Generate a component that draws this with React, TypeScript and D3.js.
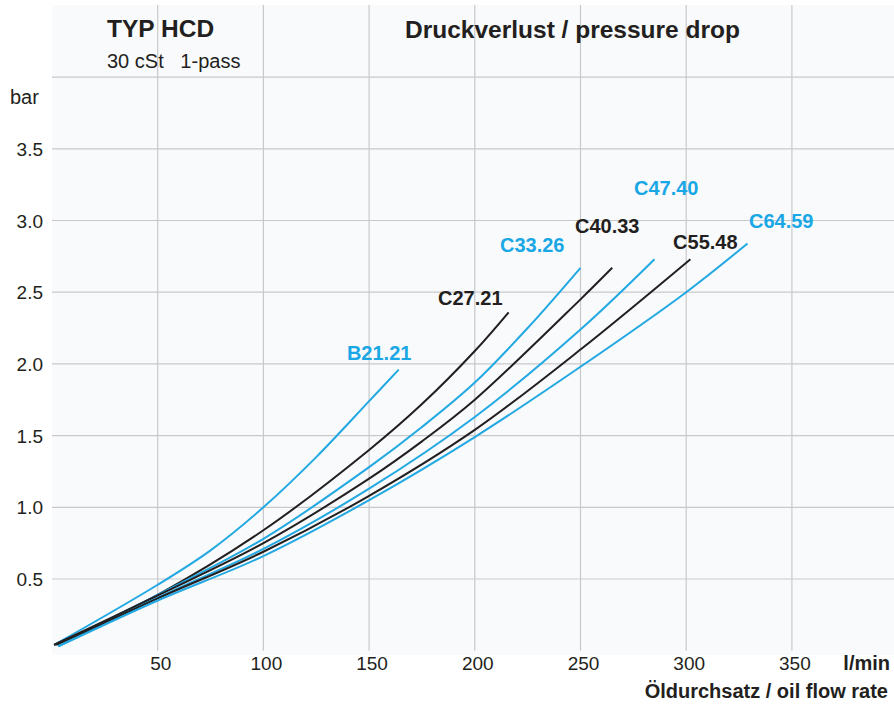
import { useEffect, useRef } from "react";
import * as d3 from "d3";

// filter types (order = legend order left to right)
const filterNames = ["B21.21", "C27.21", "C33.26", "C40.33", "C47.40", "C55.48", "C64.59"];
const filterColors = ["blue", "black", "blue", "black", "blue", "black", "blue"];

// pressure drop curves, [flow l/min, dp bar]
const b2121 = [[1, 0.04], [50, 0.46], [75, 0.7], [100, 1.0], [125, 1.35], [150, 1.74], [164, 1.96]];
const c2721 = [[1, 0.04], [50, 0.39], [100, 0.84], [150, 1.4], [175, 1.72], [200, 2.09], [216, 2.36]];
const c3326 = [[2, 0.04], [50, 0.39], [100, 0.78], [150, 1.28], [175, 1.56], [200, 1.87], [225, 2.25], [250, 2.67]];
const c4033 = [[1, 0.04], [50, 0.385], [100, 0.75], [150, 1.2], [175, 1.46], [200, 1.75], [250, 2.45], [265, 2.67]];
const c4740 = [[3, 0.03], [50, 0.37], [100, 0.71], [150, 1.13], [200, 1.63], [250, 2.24], [285, 2.73]];
const c5548 = [[2, 0.04], [50, 0.365], [100, 0.69], [150, 1.08], [200, 1.54], [250, 2.1], [302, 2.73]];
const c6459 = [[3, 0.03], [50, 0.35], [100, 0.66], [150, 1.05], [200, 1.49], [250, 1.98], [300, 2.5], [329, 2.84]];

// where each curve label sits (text start, baseline) in data units
const labelAt = [[139.5, 2.03], [182.6, 2.41], [211.9, 2.78], [247.4, 2.91], [275.3, 3.18], [293.8, 2.8], [329.7, 2.95]];

const xTicks = [50, 100, 150, 200, 250, 300, 350];
const yTicks = [0.5, 1.0, 1.5, 2.0, 2.5, 3.0, 3.5];
const yGrid = [0.5, 1.0, 1.5, 2.0, 2.5, 3.0, 3.5, 4.0];

export default function App() {
  const ref = useRef<SVGSVGElement>(null);

  useEffect(() => {
    document.body.style.margin = "0";
    if (!ref.current) return;
    const svg = d3.select(ref.current);
    svg.selectAll("*").remove();

    const W = 894;
    const font = "'Liberation Sans', Arial, Helvetica, sans-serif";
    const BLUE = "#22a8e2";
    const BLACK = "#231f20";

    const x = d3.scaleLinear().domain([0, 400]).range([52, 897.6]);
    const y = d3.scaleLinear().domain([0, 4]).range([650.7, 77.1]);

    // plot background
    svg.append("rect")
      .attr("x", x(0)).attr("y", 5)
      .attr("width", W - x(0)).attr("height", 655 - 5)
      .attr("fill", "#f8fafb");

    // grid
    const grid = svg.append("g").attr("stroke", "#c9c9cc").attr("stroke-width", 1.2);
    grid.selectAll("line.v").data(xTicks.concat([400])).enter().append("line")
      .attr("x1", (d) => x(d)).attr("x2", (d) => x(d))
      .attr("y1", 5).attr("y2", y(0));
    grid.selectAll("line.h").data(yGrid).enter().append("line")
      .attr("x1", x(0)).attr("x2", W)
      .attr("y1", (d) => y(d)).attr("y2", (d) => y(d));

    // y tick labels
    svg.append("g").selectAll("text").data(yTicks).enter().append("text")
      .attr("x", 43).attr("y", (d) => y(d) + 7)
      .attr("text-anchor", "end")
      .attr("font-family", font).attr("font-size", 19).attr("fill", BLACK)
      .text((d) => d.toFixed(1));

    svg.append("text").attr("x", 10).attr("y", 104)
      .attr("font-family", font).attr("font-size", 20).attr("fill", BLACK)
      .text("bar");

    // x tick labels
    svg.append("g").selectAll("text").data(xTicks).enter().append("text")
      .attr("x", (d) => x(d) + 3).attr("y", 670)
      .attr("text-anchor", "middle")
      .attr("font-family", font).attr("font-size", 19).attr("fill", BLACK)
      .text((d) => d);

    svg.append("text").attr("x", 890).attr("y", 670).attr("text-anchor", "end")
      .attr("font-family", font).attr("font-size", 20).attr("font-weight", "bold").attr("fill", BLACK)
      .text("l/min");

    svg.append("text").attr("x", 888).attr("y", 698).attr("text-anchor", "end")
      .attr("font-family", font).attr("font-size", 20).attr("font-weight", "bold").attr("fill", BLACK)
      .text("Öldurchsatz / oil flow rate");

    // titles
    svg.append("text").attr("x", 107).attr("y", 37)
      .attr("font-family", font).attr("font-size", 24.5).attr("font-weight", "bold").attr("fill", BLACK)
      .text("TYP HCD");
    svg.append("text").attr("x", 107).attr("y", 67.5)
      .attr("font-family", font).attr("font-size", 20).attr("fill", BLACK)
      .style("white-space", "pre")
      .text("30 cSt   1-pass");
    svg.append("text").attr("x", 405).attr("y", 38)
      .attr("font-family", font).attr("font-size", 24.5).attr("font-weight", "bold").attr("fill", BLACK)
      .text("Druckverlust / pressure drop");

    // curves
    const series = [b2121, c2721, c3326, c4033, c4740, c5548, c6459];
    const line = d3.line<number[]>()
      .x((d) => x(d[0]))
      .y((d) => y(d[1]))
      .curve(d3.curveCatmullRom.alpha(0.5));

    svg.append("g").selectAll("path").data(series).enter().append("path")
      .attr("d", (d) => line(d))
      .attr("fill", "none")
      .attr("stroke", (_d, i) => (filterColors[i] === "blue" ? BLUE : BLACK))
      .attr("stroke-width", 2);

    // curve labels
    svg.append("g").selectAll("text").data(filterNames).enter().append("text")
      .attr("x", (_d, i) => x(labelAt[i][0]))
      .attr("y", (_d, i) => y(labelAt[i][1]))
      .attr("font-family", font).attr("font-size", 20).attr("font-weight", "bold")
      .attr("fill", (_d, i) => (filterColors[i] === "blue" ? "#1aa7e6" : BLACK))
      .text((d) => d);
  }, []);

  return <svg ref={ref} width={894} height={711} style={{ display: "block" }} />;
}
